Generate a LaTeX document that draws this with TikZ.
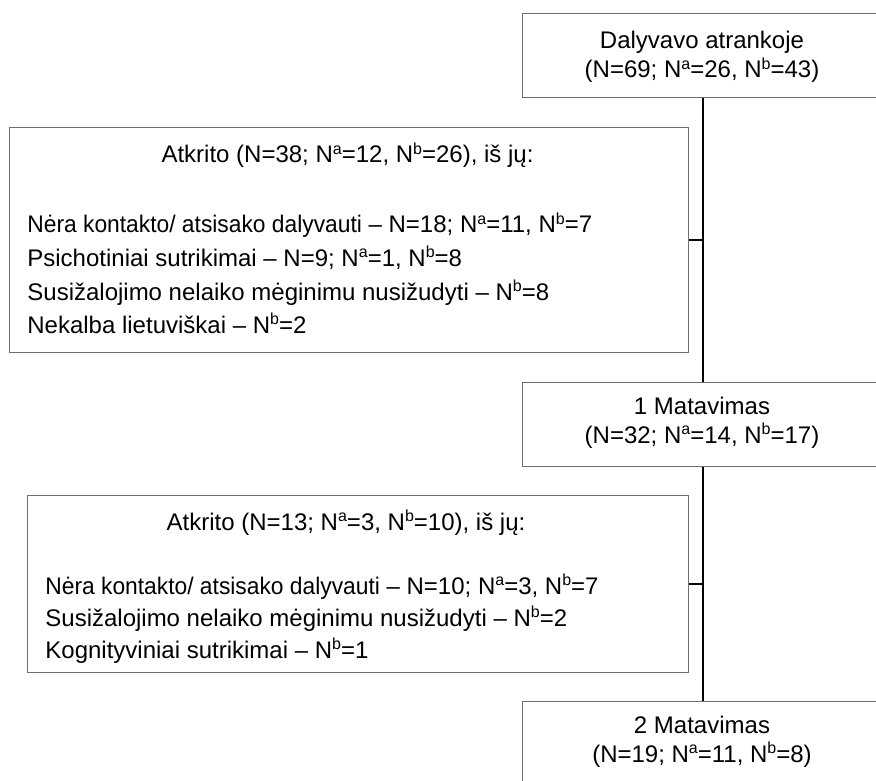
\documentclass[tikz,border=0pt]{standalone}
\usepackage{fontspec}
\setmainfont{Liberation Sans}
\newcommand\mysup[1]{\raisebox{0.36em}{\fontsize{8pt}{8pt}\selectfont #1}}
\newcommand\Nsa{N\mysup{a}}
\newcommand\Nsb{N\mysup{b}}
\begin{document}
\begin{tikzpicture}[x=0.5pt,y=-0.5pt,
  box/.style={draw={rgb,255:red,110;green,110;blue,110},line width=0.5pt,inner sep=0pt,anchor=north west},
  txt/.style={inner sep=0pt,font=\fontsize{12pt}{14pt}\selectfont},
  lefttxt/.style={txt,anchor=base west},
  midtxt/.style={txt,anchor=base},
  flow/.style={draw=black,line width=1pt}]
\useasboundingbox (0,0) rectangle (876,780);
% boxes
\node[box,minimum width=180pt,minimum height=42pt] (top) at (522,13) {};
\node[box,minimum width=339.5pt,minimum height=112.5pt] (lb1) at (9,127) {};
\node[box,minimum width=180pt,minimum height=42pt] (m1) at (522,382) {};
\node[box,minimum width=330.5pt,minimum height=88.5pt] (lb2) at (27,495) {};
\node[box,minimum width=180pt,minimum height=42pt] (m2) at (522,701) {};
% texts in right boxes
\node[midtxt] (t1) at (702,49) {Dalyvavo atrankoje};
\node[midtxt] (t2) at (702,78) {(N=69; \Nsa=26, \Nsb=43)};
\node[midtxt] (t3) at (702,414) {1 Matavimas};
\node[midtxt] (t4) at (702,443) {(N=32; \Nsa=14, \Nsb=17)};
\node[midtxt] (t5) at (702,733) {2 Matavimas};
\node[midtxt] (t6) at (702,762) {(N=19; \Nsa=11, \Nsb=8)};
% left box 1
\node[midtxt] (h1) at (347.5,163) {Atkrito (N=38; \Nsa=12, \Nsb=26), iš jų:};
\node[lefttxt] (a1) at (27,233) {\scalebox{0.95}[1]{Nėra kontakto/ atsisako dalyvauti} – N=18; \Nsa=11, \Nsb=7};
\node[lefttxt] (a2) at (27,266.5) {Psichotiniai sutrikimai – N=9; \Nsa=1, \Nsb=8};
\node[lefttxt] (a3) at (27,300) {Susižalojimo nelaiko mėginimu nusižudyti – \Nsb=8};
\node[lefttxt] (a4) at (27,333.5) {Nekalba lietuviškai – \Nsb=2};
% left box 2
\node[midtxt] (h2) at (346,530) {Atkrito (N=13; \Nsa=3, \Nsb=10), iš jų:};
\node[lefttxt] (b1) at (45,594) {\scalebox{0.95}[1]{Nėra kontakto/ atsisako dalyvauti} – N=10; \Nsa=3, \Nsb=7};
\node[lefttxt] (b2) at (45,626) {Susižalojimo nelaiko mėginimu nusižudyti – \Nsb=2};
\node[lefttxt] (b3) at (45,658) {Kognityviniai sutrikimai – \Nsb=1};
% connectors
\draw[flow] (top.south) -- (m1.north);
\draw[flow] (m1.south) -- (m2.north);
\draw[flow] (lb1.east) -- (lb1.east -| top.south);
\draw[flow] (lb2.east) -- (lb2.east -| m1.south);
\end{tikzpicture}
\end{document}
